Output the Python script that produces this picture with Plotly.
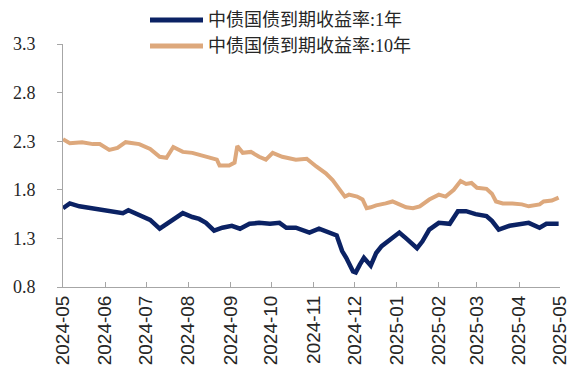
import plotly.graph_objects as go

# ---- data ----
dates_10y = ["2024-05-01","2024-05-06","2024-05-15","2024-05-23","2024-05-28","2024-06-04","2024-06-10",
             "2024-06-16","2024-06-26","2024-07-04","2024-07-11","2024-07-16","2024-07-21","2024-07-28",
             "2024-08-04","2024-08-09","2024-08-16","2024-08-22","2024-08-24","2024-08-31","2024-09-04",
             "2024-09-06","2024-09-10","2024-09-16","2024-09-22","2024-09-27","2024-10-02","2024-10-09",
             "2024-10-19","2024-10-27","2024-11-03","2024-11-10","2024-11-15","2024-11-20","2024-11-24",
             "2024-11-27","2024-12-03","2024-12-07","2024-12-10","2024-12-13","2024-12-17","2024-12-24",
             "2024-12-29","2025-01-03","2025-01-08","2025-01-13","2025-01-18","2025-01-25","2025-02-01",
             "2025-02-06","2025-02-12","2025-02-17","2025-02-21","2025-02-25","2025-03-01","2025-03-08",
             "2025-03-12","2025-03-15","2025-03-20","2025-03-27","2025-04-03","2025-04-08","2025-04-16",
             "2025-04-19","2025-04-25","2025-04-30"]
vals_10y = [2.32,2.28,2.29,2.27,2.27,2.21,2.23,
            2.29,2.27,2.22,2.14,2.13,2.24,2.19,
            2.18,2.16,2.13,2.11,2.05,2.05,2.08,
            2.25,2.18,2.19,2.14,2.11,2.18,2.14,
            2.11,2.12,2.04,1.97,1.90,1.80,1.73,
            1.75,1.73,1.70,1.61,1.62,1.64,1.66,
            1.68,1.65,1.62,1.61,1.63,1.70,1.75,
            1.73,1.80,1.89,1.86,1.87,1.82,1.81,
            1.76,1.68,1.66,1.66,1.65,1.63,1.65,
            1.68,1.69,1.72]

dates_1y = ["2024-05-01","2024-05-06","2024-05-13","2024-05-23","2024-06-04","2024-06-14","2024-06-18",
            "2024-06-26","2024-07-04","2024-07-11","2024-07-16","2024-07-21","2024-07-28","2024-08-04",
            "2024-08-09","2024-08-14","2024-08-20","2024-08-26","2024-09-02","2024-09-08","2024-09-15",
            "2024-09-22","2024-09-30","2024-10-07","2024-10-12","2024-10-19","2024-10-29","2024-11-05",
            "2024-11-12","2024-11-18","2024-11-22","2024-11-25","2024-11-30","2024-12-02","2024-12-05",
            "2024-12-08","2024-12-13","2024-12-17","2024-12-21","2024-12-26","2025-01-03","2025-01-08",
            "2025-01-16","2025-01-20","2025-01-25","2025-02-01","2025-02-09","2025-02-15","2025-02-21",
            "2025-02-28","2025-03-08","2025-03-12","2025-03-17","2025-03-25","2025-04-01","2025-04-08",
            "2025-04-16","2025-04-21","2025-04-30"]
vals_1y = [1.61,1.66,1.63,1.61,1.58,1.56,1.59,
           1.54,1.49,1.40,1.45,1.50,1.56,1.52,
           1.50,1.46,1.38,1.41,1.43,1.40,1.45,
           1.46,1.45,1.46,1.41,1.41,1.36,1.40,
           1.36,1.33,1.17,1.10,0.96,0.95,1.03,
           1.10,1.02,1.15,1.22,1.27,1.36,1.30,
           1.20,1.27,1.39,1.46,1.45,1.58,1.58,
           1.55,1.53,1.48,1.39,1.43,1.45,1.46,
           1.41,1.45,1.45]

name_1y = "中债国债到期收益率:1年"
name_10y = "中债国债到期收益率:10年"
color_1y = "#0B2264"
color_10y = "#DDA87C"

y_ticks = [0.8, 1.3, 1.8, 2.3, 2.8, 3.3]
x_ticks = ["2024-05-01","2024-06-01","2024-07-01","2024-08-01","2024-09-01","2024-10-01","2024-11-01",
           "2024-12-01","2025-01-01","2025-02-01","2025-03-01","2025-04-01","2025-05-01"]

# figure size; the page body adds an 8px offset, so layout positions are given
# in page pixels and shifted by OFF
W, H = 582, 387
OFF = 8
plot_left, plot_right, plot_top, plot_bottom = 63, 560, 44, 287  # page pixels
L = plot_left - OFF
T = plot_top - OFF
R = W - (plot_right - OFF)
B = H - (plot_bottom - OFF)
pw, ph = plot_right - plot_left, plot_bottom - plot_top

fig = go.Figure()
fig.add_trace(go.Scatter(x=dates_10y, y=vals_10y, mode="lines", name=name_10y,
                         line=dict(color=color_10y, width=4), showlegend=False))
fig.add_trace(go.Scatter(x=dates_1y, y=vals_1y, mode="lines", name=name_1y,
                         line=dict(color=color_1y, width=4.5), showlegend=False))

def px_x(p):
    return (p - plot_left) / pw

def px_y(p):
    return (plot_bottom - p) / ph

# custom legend (page pixel positions)
leg_font = dict(family="Liberation Serif, Noto Sans CJK SC, serif", size=18, color="#262626")
for yy, col, txt in [(20, color_1y, name_1y), (46, color_10y, name_10y)]:
    fig.add_shape(type="line", xref="paper", yref="paper",
                  x0=px_x(150), x1=px_x(203), y0=px_y(yy), y1=px_y(yy),
                  line=dict(color=col, width=5))
    fig.add_annotation(xref="paper", yref="paper", x=px_x(206), y=px_y(yy),
                       text=txt, showarrow=False, xanchor="left", yanchor="middle",
                       font=leg_font)

fig.update_layout(
    width=W, height=H,
    margin=dict(l=L, r=R, t=T, b=B),
    paper_bgcolor="white", plot_bgcolor="white",
    showlegend=False,
    xaxis=dict(
        type="date", range=["2024-05-01", "2025-05-01"],
        tickvals=x_ticks, tickformat="%Y-%m", tickangle=-90,
        showgrid=False, zeroline=False,
        showline=True, linecolor="#A6A6A6", linewidth=1,
        ticks="inside", ticklen=5, tickcolor="#A6A6A6",
        automargin=False,
        tickfont=dict(family="Liberation Sans, Arial, sans-serif", size=19, color="#262626"),
    ),
    yaxis=dict(
        range=[0.8, 3.3], tickvals=y_ticks, tickformat=".1f",
        showgrid=False, zeroline=False,
        showline=True, linecolor="#A6A6A6", linewidth=1,
        ticks="outside", ticklen=5, tickcolor="#A6A6A6",
        ticklabelstandoff=18, automargin=False,
        tickfont=dict(family="Liberation Serif, Times New Roman, serif", size=18, color="#262626"),
    ),
)

fig.write_html("out.html")
